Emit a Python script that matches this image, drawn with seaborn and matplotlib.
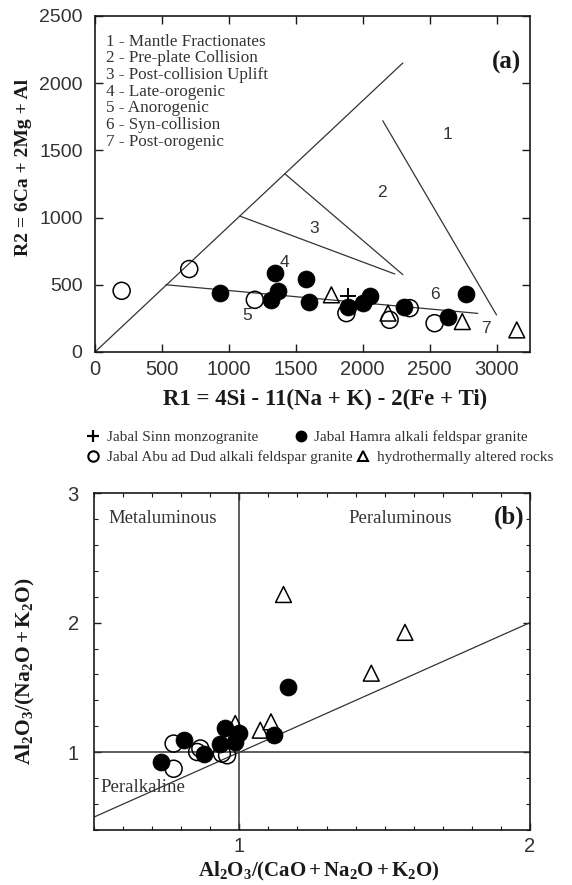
import numpy as np
import pandas as pd
import matplotlib
matplotlib.use("Agg")
import matplotlib.pyplot as plt
from matplotlib.lines import Line2D
from matplotlib.ticker import MultipleLocator
import seaborn as sns

# ---- panel (a): R1-R2 diagram
hamra_r1 = [937, 1343, 1368, 1318, 1580, 1600, 1890, 2002, 2052, 2306, 2637, 2769]
hamra_r2 = [438, 587, 450, 388, 542, 375, 333, 363, 413, 338, 259, 430]
abu_r1 = [199, 704, 1194, 1878, 2201, 2351, 2537]
abu_r2 = [455, 617, 388, 289, 239, 326, 214]
sinn_r1 = [1890]
sinn_r2 = [413]
alt_r1 = [1766, 2189, 2744, 3151]
alt_r2 = [425, 289, 226, 164]

# field boundaries (R1, R2)
bound_diag = ([0, 2300], [0, 2150])
bound_12 = ([2150, 3000], [1720, 275])
bound_3up = ([1418, 2300], [1326, 575])
bound_3lo = ([1082, 2240], [1011, 580])
bound_base = ([530, 2860], [500, 287])

zone_nums = ["1", "2", "3", "4", "5", "6", "7"]
zone_r1 = [2634, 2142, 1634, 1418, 1139, 2537, 2922]
zone_r2 = [1620, 1187, 918, 666, 269, 425, 177]
zone_names = ["1 - Mantle Fractionates", "2 - Pre-plate Collision",
              "3 - Post-collision Uplift", "4 - Late-orogenic",
              "5 - Anorogenic", "6 - Syn-collision", "7 - Post-orogenic"]

# ---- panel (b): Shand index
hamra_acnk = [0.729, 0.809, 0.880, 0.935, 0.952, 0.998, 0.986, 1.118, 1.169]
hamra_ank = [0.925, 1.098, 0.984, 1.067, 1.184, 1.145, 1.080, 1.130, 1.500]
abu_acnk = [0.774, 0.774, 0.866, 0.855, 0.958, 0.940]
abu_ank = [0.873, 1.067, 1.029, 1.002, 0.977, 0.990]
alt_acnk = [0.986, 1.072, 1.109, 1.152, 1.454, 1.570]
alt_ank = [1.222, 1.170, 1.235, 2.217, 1.610, 1.925]

legend_labels = ["Jabal Sinn monzogranite", "Jabal Hamra alkali feldspar granite",
                 "Jabal Abu ad Dud alkali feldspar granite", "hydrothermally altered rocks"]

sns.set_style("ticks")
plt.rcParams["font.family"] = ["Liberation Sans", "DejaVu Sans"]
plt.rcParams["mathtext.fontset"] = "custom"
plt.rcParams["mathtext.rm"] = "Liberation Serif"
plt.rcParams["mathtext.bf"] = "Liberation Serif:bold"
plt.rcParams["mathtext.it"] = "Liberation Serif:italic"

SERIF = "Liberation Serif"
INK = "#1a1a1a"
LINE = "#333333"

fig = plt.figure(figsize=(5.72, 8.85), dpi=100)
ax1 = fig.add_axes([0.1661, 0.6023, 0.7605, 0.3797])
ax2 = fig.add_axes([0.1643, 0.0621, 0.7622, 0.3808])


def draw_points(ax, x, y, kind):
    df = pd.DataFrame({"x": x, "y": y})
    if kind == "hamra":
        sns.scatterplot(data=df, x="x", y="y", ax=ax, marker="o", s=150, color="black",
                        edgecolor="black", linewidth=0.5, legend=False, zorder=5)
    elif kind == "abu":
        sns.scatterplot(data=df, x="x", y="y", ax=ax, marker="o", s=150, color="black",
                        facecolor="none", edgecolor="black", linewidth=1.1, legend=False, zorder=4)
    elif kind == "alt":
        sns.scatterplot(data=df, x="x", y="y", ax=ax, marker="^", s=130, color="black",
                        facecolor="none", edgecolor="black", linewidth=1.1, legend=False, zorder=4)
    else:
        sns.scatterplot(data=df, x="x", y="y", ax=ax, marker="+", s=130, color="black",
                        linewidth=1.4, legend=False, zorder=6)


# ---------------- panel (a)
for seg in [bound_diag, bound_12, bound_3up, bound_3lo, bound_base]:
    ax1.plot(seg[0], seg[1], color=LINE, lw=0.9, zorder=2)

draw_points(ax1, abu_r1, abu_r2, "abu")
draw_points(ax1, alt_r1, alt_r2, "alt")
draw_points(ax1, hamra_r1, hamra_r2, "hamra")
draw_points(ax1, sinn_r1, sinn_r2, "sinn")

for lab, xx, yy in zip(zone_nums, zone_r1, zone_r2):
    ax1.text(xx, yy, lab, ha="center", va="center", fontsize=12.5, color="#333333")

for i, name in enumerate(zone_names):
    ax1.text(0.025, 0.9116 - i * 0.0497, name, transform=ax1.transAxes, ha="left",
             va="baseline", fontsize=12.3, family=SERIF, color="#333333")

ax1.text(0.979, 0.863, "(a)", transform=ax1.transAxes, ha="right", va="center",
         fontsize=18, fontweight="bold", family=SERIF, color=INK)

ax1.set_xlim(0, 3250)
ax1.set_ylim(0, 2500)
ax1.xaxis.set_major_locator(MultipleLocator(500))
ax1.yaxis.set_major_locator(MultipleLocator(500))
ax1.tick_params(direction="in", length=6, width=1.0, top=True, right=True,
                colors=INK, labelcolor="#333333")
ax1.tick_params(axis="x", labelsize=14.5, pad=6)
ax1.tick_params(axis="y", labelsize=14, pad=9)
ax1.set_xlabel("R1 = 4Si - 11(Na + K) - 2(Fe + Ti)", fontsize=16.5, fontweight="bold",
               family=SERIF, color=INK)
ax1.set_ylabel("R2 = 6Ca + 2Mg + Al", fontsize=14, fontweight="bold", family=SERIF, color=INK)
ax1.xaxis.set_label_coords(0.529, -0.11)
ax1.yaxis.set_label_coords(-0.145, 0.55)

# ---------------- panel (b)
ax2.plot([0.5, 2.0], [0.5, 2.0], color=LINE, lw=0.9, zorder=2)
ax2.axhline(1.0, color=LINE, lw=1.1, zorder=2)
ax2.axvline(1.0, color=LINE, lw=1.1, zorder=2)

draw_points(ax2, abu_acnk, abu_ank, "abu")
draw_points(ax2, alt_acnk, alt_ank, "alt")
draw_points(ax2, hamra_acnk, hamra_ank, "hamra")

ax2.text(0.737, 2.80, "Metaluminous", ha="center", va="center", fontsize=13.5,
         family=SERIF, color="#333333")
ax2.text(1.553, 2.80, "Peraluminous", ha="center", va="center", fontsize=13.5,
         family=SERIF, color="#333333")
ax2.text(0.669, 0.73, "Peralkaline", ha="center", va="center", fontsize=13.5,
         family=SERIF, color="#333333", zorder=7)
ax2.text(0.9885, 0.929, "(b)", transform=ax2.transAxes, ha="right", va="center",
         fontsize=18, fontweight="bold", family=SERIF, color=INK)

ax2.set_xlim(0.5, 2.0)
ax2.set_ylim(0.4, 3.0)
ax2.xaxis.set_major_locator(MultipleLocator(1))
ax2.xaxis.set_minor_locator(MultipleLocator(0.1))
ax2.yaxis.set_major_locator(MultipleLocator(1))
ax2.yaxis.set_minor_locator(MultipleLocator(0.2))
ax2.tick_params(which="both", direction="in", top=True, right=True, colors=INK,
                labelcolor="#333333")
ax2.tick_params(which="major", length=5, width=1.0, labelsize=14.5)
ax2.tick_params(which="minor", length=3, width=0.8)
ax2.tick_params(axis="x", pad=5)
ax2.tick_params(axis="y", pad=11)
ax2.set_xlabel(r"$\mathbf{Al_2O_3/(CaO + Na_2O + K_2O)}$", fontsize=15, color=INK)
ax2.set_ylabel(r"$\mathbf{Al_2O_3/(Na_2O + K_2O)}$", fontsize=15.5, color=INK)
ax2.xaxis.set_label_coords(0.515, -0.09)
ax2.yaxis.set_label_coords(-0.13, 0.47)

for ax in (ax1, ax2):
    for sp in ax.spines.values():
        sp.set_linewidth(1.2)
        sp.set_color(INK)
        sp.set_visible(True)

# ---------------- shared legend (two rows between the panels)
h_sinn = Line2D([], [], ls="none", marker="+", ms=8, mew=1.6, color="black")
h_hamra = Line2D([], [], ls="none", marker="o", ms=7.5, color="black")
h_abu = Line2D([], [], ls="none", marker="o", ms=7.5, mfc="white", mec="black", mew=1.5)
h_alt = Line2D([], [], ls="none", marker="^", ms=7.5, mfc="white", mec="black", mew=1.5)

leg_font = {"family": SERIF, "size": 11}
fig.legend([h_sinn, h_hamra], legend_labels[:2], loc="center left",
           bbox_to_anchor=(0.149, 0.506), ncol=2, frameon=False, prop=leg_font,
           handlelength=1.0, handletextpad=0.4, columnspacing=2.3,
           borderpad=0, borderaxespad=0, labelcolor="#333333")
fig.legend([h_abu, h_alt], legend_labels[2:], loc="center left",
           bbox_to_anchor=(0.149, 0.4836), ncol=2, frameon=False, prop=leg_font,
           handlelength=1.0, handletextpad=0.4, columnspacing=0.2,
           borderpad=0, borderaxespad=0, labelcolor="#333333")

fig.savefig("out.png", dpi=100, facecolor="white")
